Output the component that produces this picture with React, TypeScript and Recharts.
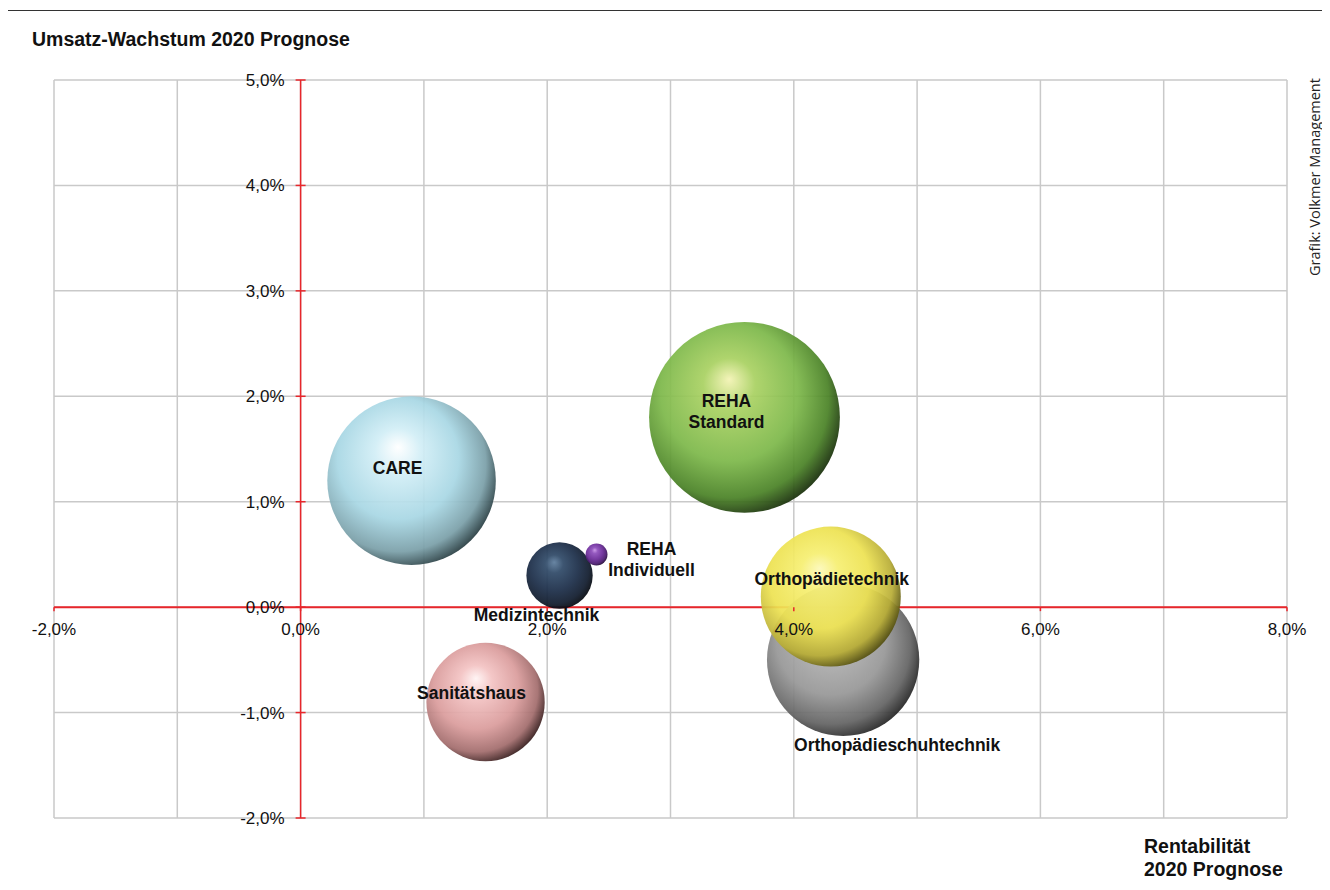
import React from 'react';
import {
  ScatterChart,
  Scatter,
  XAxis,
  YAxis,
  ZAxis,
  CartesianGrid,
  ReferenceLine,
} from 'recharts';

// Geschäftsfelder, Rentabilität (x, %), Umsatz-Wachstum (y, %), Volumen (Blasengröße)
const CATEGORIES = [
  'Orthopädieschuhtechnik',
  'CARE',
  'REHA Standard',
  'Medizintechnik',
  'REHA Individuell',
  'Orthopädietechnik',
  'Sanitätshaus',
];
const RENTABILITAET = [4.4, 0.9, 3.6, 2.1, 2.4, 4.3, 1.5];
const WACHSTUM = [-0.5, 1.2, 1.8, 0.3, 0.5, 0.1, -0.9];
const VOLUMEN = [58, 71, 91, 11, 1.2, 49, 35];

const X_TICKS = [-2, -1, 0, 1, 2, 3, 4, 5, 6, 7, 8];
const Y_TICKS = [-2, -1, 0, 1, 2, 3, 4, 5];

const data = CATEGORIES.map((name, i) => ({
  name,
  x: RENTABILITAET[i],
  y: WACHSTUM[i],
  z: VOLUMEN[i],
}));

// layout (axes take 1px each, CartesianAxis draws nothing at 0)
const W = 1330;
const H = 890;
const MARGIN = { top: 80, right: 43, bottom: 71, left: 53 };
const PLOT_LEFT = 54;
const PLOT_TOP = 80;
const PLOT_W = 1233;
const PLOT_H = 738;
const ZERO_X = PLOT_LEFT + (2 / 10) * PLOT_W;
const ZERO_Y = PLOT_TOP + (5 / 7) * PLOT_H;
const RED = '#e8262b';
const FONT = '"Liberation Sans", Arial, sans-serif';

// sphere colours: highlight, light, base, dark, edge
const SPHERE: Record<string, string[]> = {
  CARE: ['#ffffff', '#d2eef6', '#a8d7e4', '#7a9fa8', '#22363a'],
  'REHA Standard': ['#f3f3b4', '#a9d162', '#7db84a', '#4a8226', '#132707'],
  Medizintechnik: ['#5d7c9c', '#2f4967', '#1b2d48', '#101b2d', '#03060b'],
  'REHA Individuell': ['#c792e6', '#8c4cba', '#6b2b99', '#4a1a70', '#1e072e'],
  Orthopädietechnik: ['#fcf8b8', '#f6ef72', '#ede252', '#b8ad36', '#4a460c'],
  Orthopädieschuhtechnik: ['#dcdcdc', '#b2b2b2', '#979797', '#636363', '#202020'],
  Sanitätshaus: ['#fff3f3', '#f3c3c3', '#da9c9c', '#a26c6c', '#2e1616'],
};

// label offsets relative to bubble centre
const LABELS: Record<string, { dx: number; dy: number; lines: string[] }> = {
  CARE: { dx: -14, dy: -13, lines: ['CARE'] },
  'REHA Standard': { dx: -18, dy: -16, lines: ['REHA', 'Standard'] },
  Medizintechnik: { dx: -23, dy: 39, lines: ['Medizintechnik'] },
  'REHA Individuell': { dx: 55, dy: -5, lines: ['REHA', 'Individuell'] },
  Orthopädietechnik: { dx: 1, dy: -18, lines: ['Orthopädietechnik'] },
  Orthopädieschuhtechnik: { dx: 54, dy: 85, lines: ['Orthopädieschuhtechnik'] },
  Sanitätshaus: { dx: -14, dy: -9, lines: ['Sanitätshaus'] },
};

const fmt = (v: number) => v.toFixed(1).replace('.', ',') + '%';

const Bubble = (props: any) => {
  const { cx, cy, width, payload } = props;
  const r = width / 2;
  const c = SPHERE[payload.name];
  const id = 'g' + CATEGORIES.indexOf(payload.name);
  return (
    <g>
      <defs>
        <radialGradient id={id} cx="0.42" cy="0.42" r="0.62" fx="0.42" fy="0.3">
          <stop offset="0" stopColor={c[0]} />
          <stop offset="0.22" stopColor={c[1]} />
          <stop offset="0.58" stopColor={c[2]} />
          <stop offset="0.84" stopColor={c[3]} />
          <stop offset="1" stopColor={c[4]} />
        </radialGradient>
      </defs>
      <circle cx={cx} cy={cy} r={r} fill={`url(#${id})`} fillOpacity={0.93} />
    </g>
  );
};

const BubbleLabel = (props: any) => {
  const { cx, cy, payload } = props;
  const l = LABELS[payload.name];
  return (
    <text
      x={cx + l.dx}
      y={cy + l.dy}
      textAnchor="middle"
      fontFamily={FONT}
      fontWeight="bold"
      fontSize={17.5}
      fill="#111"
    >
      {l.lines.map((line, i) => (
        <tspan key={i} x={cx + l.dx} dy={i === 0 ? 6 : 21}>
          {line}
        </tspan>
      ))}
    </text>
  );
};

const XTick = (props: any) => {
  const { x, payload } = props;
  if (payload.value % 2 !== 0) return <g />;
  return (
    <g>
      <line x1={x} x2={x} y1={ZERO_Y} y2={ZERO_Y + 4} stroke={RED} strokeWidth={1.5} />
      <text x={x} y={ZERO_Y + 28} textAnchor="middle" fontFamily={FONT} fontSize={17} fill="#111">
        {fmt(payload.value)}
      </text>
    </g>
  );
};

const YTick = (props: any) => {
  const { y, payload } = props;
  return (
    <g>
      <line x1={ZERO_X - 5} x2={ZERO_X + 5} y1={y} y2={y} stroke={RED} strokeWidth={1.5} />
      <text x={ZERO_X - 16} y={y + 6} textAnchor="end" fontFamily={FONT} fontSize={17} fill="#111">
        {fmt(payload.value)}
      </text>
    </g>
  );
};

export default function App() {
  return (
    <div
      style={{
        position: 'relative',
        width: W,
        height: H,
        margin: -8,
        background: '#fff',
        overflow: 'hidden',
        fontFamily: FONT,
      }}
    >
      <div
        style={{
          position: 'absolute',
          left: 7,
          top: 10,
          width: 1321,
          height: H,
          borderTop: '1.5px solid #333',
          borderLeft: '1.5px solid #333',
          borderRight: '1px solid #ccc',
        }}
      />
      <div
        style={{
          position: 'absolute',
          left: 32,
          top: 28,
          fontSize: 19.5,
          fontWeight: 'bold',
          color: '#111',
          whiteSpace: 'nowrap',
        }}
      >
        Umsatz-Wachstum 2020 Prognose
      </div>
      <div
        style={{
          position: 'absolute',
          left: 1144,
          top: 835,
          fontSize: 19.5,
          fontWeight: 'bold',
          lineHeight: '23px',
          color: '#111',
          whiteSpace: 'nowrap',
        }}
      >
        Rentabilität
        <br />
        2020 Prognose
      </div>
      <div
        style={{
          position: 'absolute',
          left: 1314,
          top: 177,
          transform: 'translate(-50%, -50%) rotate(-90deg)',
          fontFamily: '"Open Sans", "Noto Sans", sans-serif',
          fontSize: 14.5,
          color: '#222',
          whiteSpace: 'nowrap',
        }}
      >
        Grafik: Volkmer Management
      </div>
      <div style={{ position: 'absolute', left: 0, top: 0 }}>
        <ScatterChart width={W} height={H} margin={MARGIN}>
          <CartesianGrid stroke="#c9c9c9" strokeWidth={1.5} />
          <ReferenceLine x={0} stroke={RED} strokeWidth={1.5} />
          <ReferenceLine y={0} stroke={RED} strokeWidth={2} />
          <Scatter data={data} shape={<Bubble />} isAnimationActive={false} />
          <XAxis
            type="number"
            dataKey="x"
            domain={[-2, 8]}
            ticks={X_TICKS}
            interval={0}
            height={1}
            axisLine={false}
            tickLine={false}
            tick={XTick}
          />
          <YAxis
            type="number"
            dataKey="y"
            domain={[-2, 5]}
            ticks={Y_TICKS}
            interval={0}
            width={1}
            axisLine={false}
            tickLine={false}
            tick={YTick}
          />
          <ZAxis type="number" dataKey="z" domain={[0, 100]} range={[0, Math.PI * 10000]} />
          <Scatter data={data} shape={<BubbleLabel />} isAnimationActive={false} />
        </ScatterChart>
      </div>
    </div>
  );
}
